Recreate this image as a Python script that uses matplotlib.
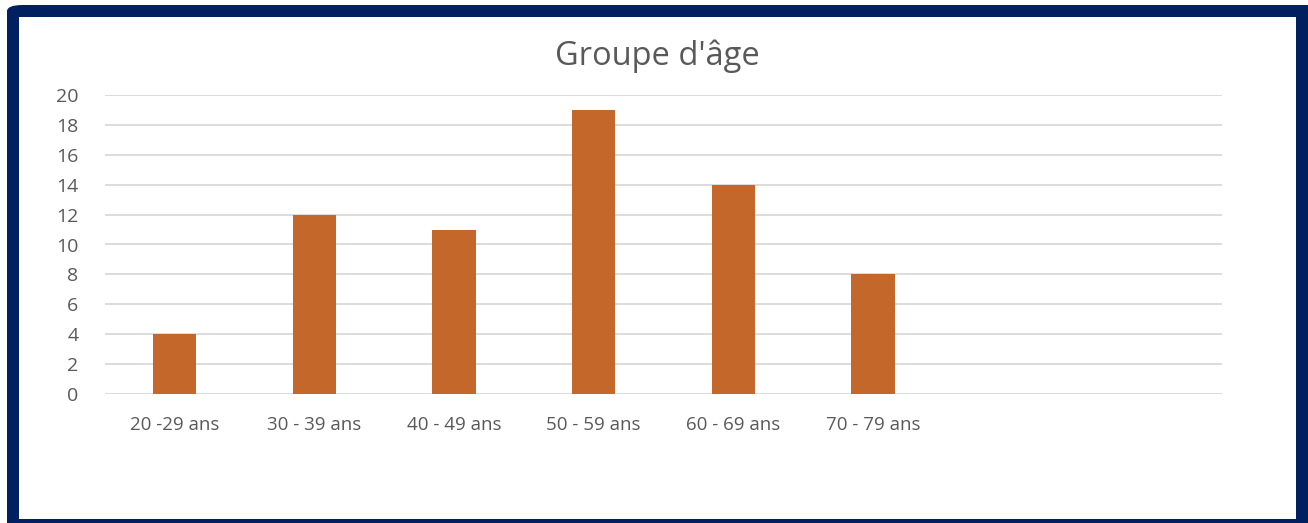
import matplotlib
matplotlib.use("Agg")
import matplotlib.pyplot as plt
from matplotlib.patches import FancyBboxPatch, Rectangle

categories = ["20 -29 ans", "30 - 39 ans", "40 - 49 ans", "50 - 59 ans", "60 - 69 ans", "70 - 79 ans", "", ""]
values = [4, 12, 11, 19, 14, 8, None, None]
yticks = [0, 2, 4, 6, 8, 10, 12, 14, 16, 18, 20]

W, H = 1308, 523
fig = plt.figure(figsize=(W / 100, H / 100), dpi=100)
fig.patch.set_facecolor("white")

navy = "#002060"
# border frame
fig.patches.append(FancyBboxPatch((7 / W, -20 / H), 1330 / W, (518 + 20) / H,
                                  boxstyle="round,pad=0,rounding_size=0.012",
                                  transform=fig.transFigure, facecolor=navy,
                                  edgecolor="none", zorder=0))
fig.patches.append(Rectangle((19 / W, 4 / H), (1296 - 19) / W, (506 - 4) / H,
                             transform=fig.transFigure, facecolor="white",
                             edgecolor="none", zorder=1))

ax = fig.add_axes([105 / W, (523 - 394) / H, (1222 - 105) / W, (394 - 95) / H])
ax.set_zorder(2)
ax.patch.set_alpha(0)

font = "Open Sans"
txt = "#595959"
xs = list(range(len(categories)))
bar_x = [x for x, v in zip(xs, values) if v is not None]
bar_v = [v for v in values if v is not None]
ax.bar(bar_x, bar_v, width=0.31, color="#c4672a", zorder=3)

ax.set_xlim(-0.5, len(categories) - 0.5)
ax.set_ylim(0, 20)
ax.set_yticks(yticks)
ax.set_yticklabels([str(t) for t in yticks], fontsize=14, color=txt, family=font)
ax.set_xticks(xs)
ax.set_xticklabels(categories, fontsize=13.5, color=txt, family=font)
ax.tick_params(axis="both", length=0)
ax.tick_params(axis="y", pad=19)
ax.tick_params(axis="x", pad=16)
ax.grid(axis="y", color="#d9d9d9", linewidth=1.3, zorder=0)
for s in ax.spines.values():
    s.set_visible(False)

fig.text(657 / W, 1 - 56 / H, "Groupe d'âge", ha="center", va="center",
         fontsize=23.5, color=txt, family=font, zorder=5)

fig.savefig("out.png", dpi=100)
